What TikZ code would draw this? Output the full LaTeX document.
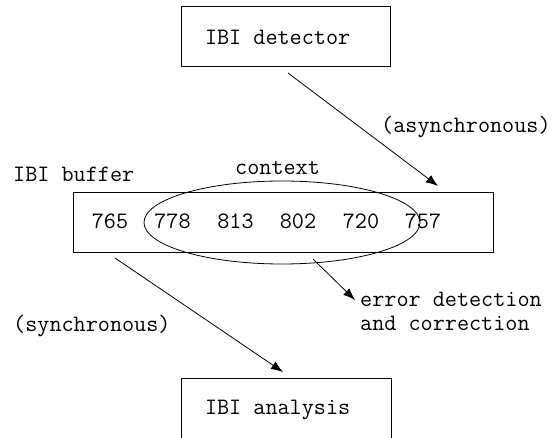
\documentclass[tikz,border=0pt]{standalone}
\usepackage{fontspec}
\usetikzlibrary{arrows.meta,shapes.geometric}
\begin{document}
\begin{tikzpicture}[x=1pt,y=-1pt,
  font=\ttfamily\fontsize{23.5}{24}\selectfont,
  box/.style={draw, line width=1pt, inner ysep=0pt},
  arr/.style={-{Latex[length=12pt,width=9pt]}, line width=0.8pt},
  lbl/.style={inner sep=0pt, anchor=base west},
  num/.style={inner sep=0pt, anchor=base}]
\useasboundingbox (0,0) rectangle (555,438);
\clip (0,0) rectangle (555,438);
% boxes
\node[box, minimum width=209pt, minimum height=60pt, inner xsep=24pt] (det) at (285.5,37) {\makebox[161pt][l]{IBI detector}};
\node[box, minimum width=420pt, minimum height=60pt] (buf) at (283,223) {};
\node[box, minimum width=210pt, minimum height=62pt, inner xsep=24pt] (ana) at (286,410) {\makebox[162pt][l]{IBI analysis}};
% context ellipse
\node[draw, ellipse, line width=0.8pt, minimum width=276pt, minimum height=83pt, inner sep=0pt] (ctx) at (282,222.5) {};
% numbers
\node[num] (n1) at (110,229) {765};
\node[num] (n2) at (172.5,229) {778};
\node[num] (n3) at (235.5,229) {813};
\node[num] (n4) at (298,229) {802};
\node[num] (n5) at (361,229) {720};
\node[num] (n6) at (423,229) {757};
% labels
\node[lbl] (lbuf) at (13,182) {IBI buffer};
\node[lbl] (lctx) at (235,175) {context};
\node[lbl] (lasy) at (381,133) {(asynchronous)};
\node[lbl] (lsyn) at (13,332) {(synchronous)};
\node[lbl] (lerr1) at (360,307) {error detection};
\node[lbl] (lerr2) at (360,331) {and correction};
% connector ends
\coordinate (a1s) at (288,73);
\coordinate (a1e) at (438,186);
\coordinate (a2s) at (313,259);
\coordinate (a2e) at (355,300);
\coordinate (a3s) at (115,258);
\coordinate (a3e) at (283,372);
\draw[arr] (a1s) -- (a1e);
\draw[arr] (a2s) -- (a2e);
\draw[arr] (a3s) -- (a3e);
\end{tikzpicture}
\end{document}
